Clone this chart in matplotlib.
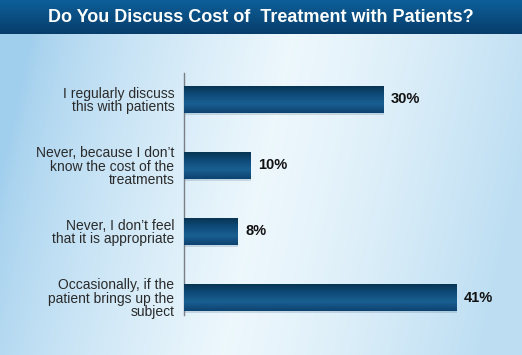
import numpy as np
import matplotlib
matplotlib.use("Agg")
import matplotlib.pyplot as plt
from matplotlib.colors import LinearSegmentedColormap
from matplotlib.patches import Rectangle

title = "Do You Discuss Cost of  Treatment with Patients?"
categories = [
    "I regularly discuss\nthis with patients",
    "Never, because I don\u2019t\nknow the cost of the\ntreatments",
    "Never, I don\u2019t feel\nthat it is appropriate",
    "Occasionally, if the\npatient brings up the\nsubject",
]
values = [30, 10, 8, 41]
value_labels = ["30%", "10%", "8%", "41%"]

W, H = 522, 355
fig = plt.figure(figsize=(W / 100, H / 100), dpi=100)
FAM = ["Liberation Sans Narrow", "Liberation Sans", "DejaVu Sans"]

# background
bg = fig.add_axes([0, 0, 1, 1])
bg.set_axis_off()
nx, ny = 300, 200
xs = np.linspace(0, 1, nx)
ys = np.linspace(0, 1, ny)
X, Y = np.meshgrid(xs, ys)
left = np.array([0.63, 0.81, 0.93])
mid = np.array([0.93, 0.97, 0.99])
right = np.array([0.74, 0.87, 0.95])
t = X + 0.15 * (Y - 0.5)
img = np.zeros((ny, nx, 3))
for c in range(3):
    img[..., c] = np.where(t < 0.5,
                           left[c] + (mid[c] - left[c]) * np.clip(t / 0.5, 0, 1) ** 0.7,
                           mid[c] + (right[c] - mid[c]) * np.clip((t - 0.5) / 0.5, 0, 1) ** 1.3)
bg.imshow(img, extent=[0, 1, 0, 1], aspect="auto", origin="upper")
# title band
band_top = np.array([0.05, 0.37, 0.60])
band_bot = np.array([0.03, 0.24, 0.42])
band = np.zeros((50, 2, 3))
for c in range(3):
    band[..., c] = np.linspace(band_top[c], band_bot[c], 50)[:, None]
bg.imshow(band, extent=[0, 1, 1 - 34 / H, 1], aspect="auto", origin="upper")
bg.set_xlim(0, 1)
bg.set_ylim(0, 1)
bg.text(0.5, 1 - 18 / H, title, color="white", ha="center", va="center",
        fontsize=13, fontweight="bold", family=FAM)

# main axes
ax_left = 184 / W
ax_right = 516 / W
ax_top = 73 / H
ax_bot = 315 / H
ax = fig.add_axes([ax_left, 1 - ax_bot, ax_right - ax_left, ax_bot - ax_top])
ax.patch.set_alpha(0)
y = np.arange(len(categories))
ax.set_xlim(0, 50)
ax.set_ylim(3.265, -0.4)
bh = 27 / 66
bars = ax.barh(y, values, height=bh, color="#0c4874", edgecolor="none", zorder=3)
bar_cmap = LinearSegmentedColormap.from_list("b", ["#07324f", "#0e4a78", "#1a5f92", "#0d4370"])
grad = np.linspace(0, 1, 64)[:, None]
for b in bars:
    x0, y0 = b.get_x(), b.get_y()
    w, h = b.get_width(), b.get_height()
    # soft shadow
    ax.add_patch(Rectangle((x0 + 0.1, y0 + 0.025), w, h, color="#5d7f9c", alpha=0.25, zorder=2, lw=0))
    im = ax.imshow(grad, cmap=bar_cmap, extent=[x0, x0 + w, y0 + h, y0], aspect="auto", zorder=4)
    im.set_clip_path(b)
ax.set_xlim(0, 50)
ax.set_ylim(3.265, -0.4)

for yi, v, lab in zip(y, values, value_labels):
    ax.text(v + 1.2, yi, lab, ha="left", va="center", fontsize=10.5, fontweight="bold",
            color="#111111", family=FAM, zorder=5)

ax.set_yticks(y)
ax.set_yticklabels(categories, fontsize=10, color="#2a2a2a", linespacing=0.92, family=FAM)
ax.tick_params(axis="y", length=0, pad=7)
ax.set_xticks([])
for s in ["top", "right", "bottom"]:
    ax.spines[s].set_visible(False)
ax.spines["left"].set_color("#7a7f85")
ax.spines["left"].set_linewidth(1.0)

fig.savefig("out.png", dpi=100)
